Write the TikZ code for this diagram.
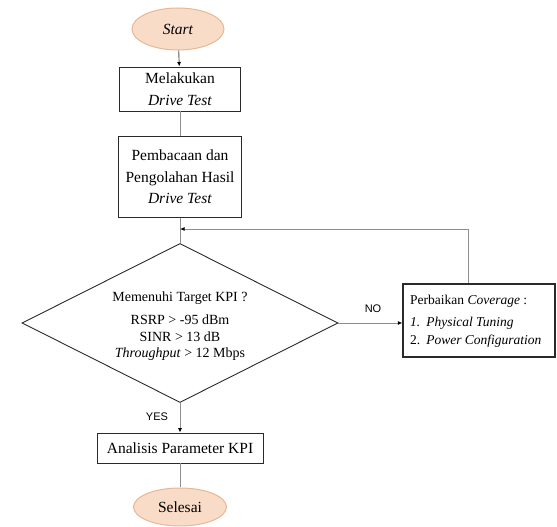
\documentclass[tikz,border=0pt]{standalone}
\usepackage{fontspec}
\setmainfont{Liberation Serif}
\newfontfamily\sansf{Liberation Sans}
\usetikzlibrary{shapes.geometric,arrows.meta}
\definecolor{peach}{HTML}{F9DCC8}
\definecolor{peachline}{HTML}{E9B793}
\definecolor{conn}{HTML}{8E8E8E}
\definecolor{boxline}{HTML}{2A2A2A}
\tikzset{
  term/.style={ellipse, draw=peachline, fill=peach, line width=1pt, inner sep=0pt, font=\fontsize{15.5}{18}\selectfont},
  procbox/.style={rectangle, draw=boxline, line width=0.9pt, inner sep=0pt, align=center, font=\fontsize{15.5}{21.5}\selectfont},
  decision/.style={diamond, draw=boxline, line width=0.9pt, inner sep=0pt},
  conline/.style={draw=conn, line width=0.9pt},
  arr/.style={conline, -{Latex[black,length=4.5pt,width=4pt]}},
  lbl/.style={font=\sansf\fontsize{11}{13}\selectfont, inner sep=0pt}
}
\begin{document}
\begin{tikzpicture}[x=1pt,y=1pt]
\useasboundingbox (0,0) rectangle (557,527);
\node[term, minimum width=92pt, minimum height=42pt] (start) at (178,498) {\textit{Start}};
\node[procbox, minimum width=121pt, minimum height=44pt] (b1) at (180,438) {Melakukan\\\textit{Drive Test}};
\node[procbox, minimum width=123pt, minimum height=81pt] (b2) at (180,350) {Pembacaan dan\\Pengolahan Hasil\\\textit{Drive Test}};
\node[decision, minimum width=316pt, minimum height=159pt] (dia) at (180,204) {};
\node[align=center, inner sep=0pt, font=\fontsize{14}{16.5}\selectfont] (diatext) at (180,201) {Memenuhi Target KPI ?\\[7pt]RSRP > -95 dBm\\SINR > 13 dB\\\textit{Throughput} > 12 Mbps};
\node[rectangle, draw=boxline, line width=1.2pt, minimum width=152pt, minimum height=73pt, inner sep=0pt] (perb) at (479,206.5) {};
\node[anchor=west, align=left, inner sep=0pt, font=\fontsize{13.5}{18}\selectfont] (perbtext) at (410,206) {Perbaikan \textit{Coverage} :\\[4pt]\textit{1.}\hspace{6pt}\textit{Physical Tuning}\\2.\hspace{6pt}\textit{Power Configuration}};
\node[procbox, minimum width=166pt, minimum height=30pt] (b3) at (180,79) {Analisis Parameter KPI};
\node[term, minimum width=93pt, minimum height=38pt] (end) at (180,20) {Selesai};
\node[lbl] (yes) at (157,110) {YES};
\node[lbl] (no) at (373,218) {NO};
\coordinate (fb) at (468,298);
\draw[arr, draw=boxline!80] (start) -- (b1);
\draw[conline] (b1) -- (b2);
\draw[conline] (b2) -- (dia.north);
\draw[arr] (dia.south) -- (b3);
\draw[conline] (b3) -- (end);
\draw[arr] (dia.east) -- (dia.east -| perb.west);
\draw[arr] (perb.north -| fb) -- (fb) -- (fb -| b2.south);
\end{tikzpicture}
\end{document}
